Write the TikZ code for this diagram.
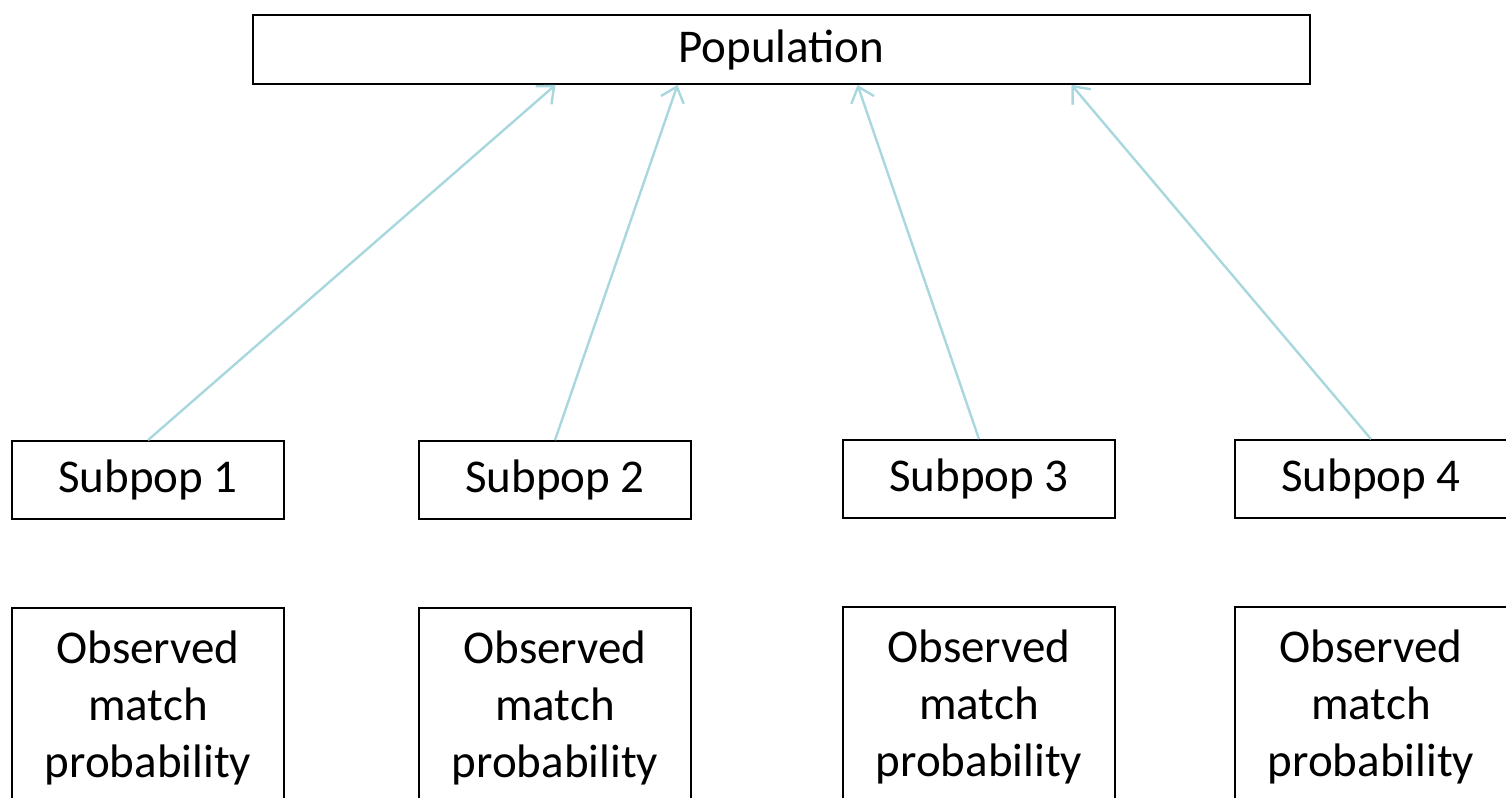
\documentclass[tikz,border=0pt]{standalone}
\usepackage{fontspec}
\setmainfont{Carlito}
\usetikzlibrary{arrows.meta}
\definecolor{linkblue}{RGB}{168,216,222}

\begin{document}
\begin{tikzpicture}[x=0.5pt,y=-0.5pt,
  box/.style={draw, line width=0.9pt, minimum width=136pt, minimum height=39pt, inner sep=0pt,
    font=\fontsize{23.5}{28.5}\selectfont},
  obsbox/.style={box, anchor=north, text width=130pt, align=center, minimum height=0pt,
    text height=28pt, text depth=120pt},
  link/.style={linkblue, line width=1.2pt, -{Straight Barb[length=7pt,width=12pt,line width=1.2pt]}}]
  \clip(0,0)rectangle(1506,798);
  \node[box, minimum width=528.5pt, minimum height=34.5pt](pop) at (781.5,49.5){Population};
  \node[box](s1) at (148,480){Subpop 1};
  \node[box](s2) at (555,480){Subpop 2};
  \node[box](s3) at (979,479){Subpop 3};
  \node[box](s4) at (1371,479){Subpop 4};
  \node[obsbox](o1) at (148,607){Observed\\match\\probability};
  \node[obsbox](o2) at (555,607){Observed\\match\\probability};
  \node[obsbox](o3) at (979,606){Observed\\match\\probability};
  \node[obsbox](o4) at (1371,606){Observed\\match\\probability};
  \draw[link](s1.north)--([xshift=-113pt]pop.south);
  \draw[link](s2.north)--([xshift=-52pt]pop.south);
  \draw[link](s3.north)--([xshift=38pt]pop.south);
  \draw[link](s4.north)--([xshift=145pt]pop.south);
\end{tikzpicture}
\end{document}
